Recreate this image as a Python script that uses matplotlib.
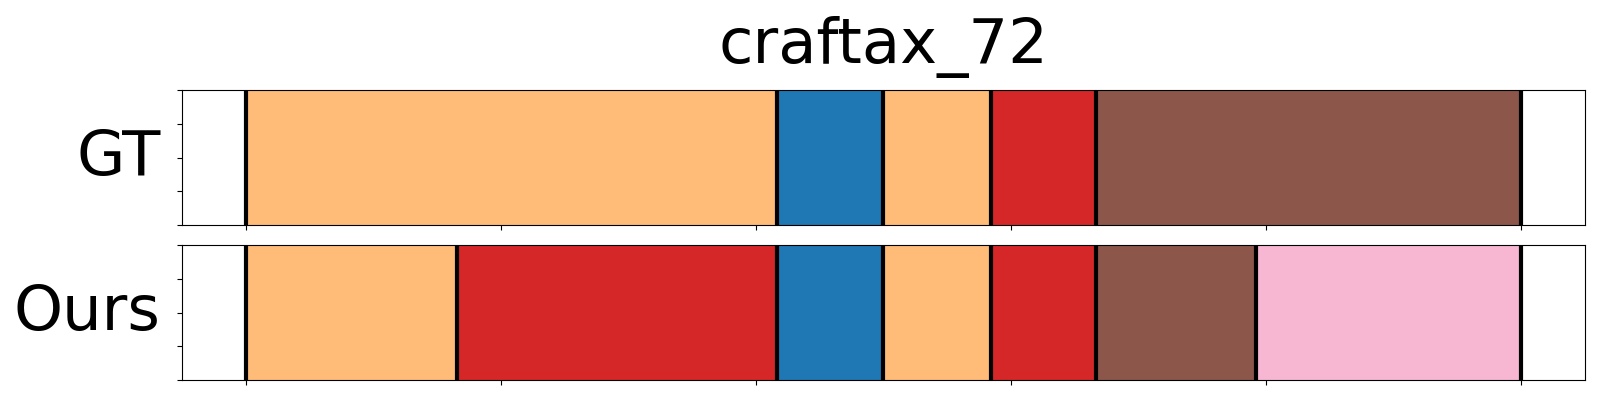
import matplotlib
matplotlib.use("Agg")
import matplotlib.pyplot as plt

# ---- data (segment boundaries in frames, and segment class colors) ----
title = "craftax_72"
row_labels = ["GT", "Ours"]

gt_bounds = [0, 208.5, 250, 292, 333.5, 500]
gt_colors = ["#ffbb78", "#1f77b4", "#ffbb78", "#d62728", "#8c564b"]

ours_bounds = [0, 83, 208.5, 250, 292, 333.5, 396, 500]
ours_colors = ["#ffbb78", "#d62728", "#1f77b4", "#ffbb78", "#d62728", "#8c564b", "#f7b6d2"]

x_ticks = [0, 100, 200, 300, 400, 500]
y_ticks = [0, 0.25, 0.5, 0.75, 1.0]

fig = plt.figure(figsize=(16, 4), dpi=100)
ax1 = fig.add_axes([0.1136, 0.4375, 0.877, 0.3365])
ax2 = fig.add_axes([0.1136, 0.05, 0.877, 0.3365])

def draw(ax, bounds, colors, label):
    for s, e, c in zip(bounds[:-1], bounds[1:], colors):
        ax.axvspan(s, e, color=c, lw=0)
    for b in bounds:
        ax.axvline(b, color="black", lw=3)
    ax.set_xlim(-25, 525)
    ax.set_ylim(0, 1)
    ax.set_xticks(x_ticks)
    ax.set_xticklabels([])
    ax.set_yticks(y_ticks)
    ax.set_yticklabels([])
    ax.set_ylabel(label, fontsize=45, rotation=0, ha="right", va="center")
    ax.yaxis.set_label_coords(-0.0150, 0.5)

draw(ax1, gt_bounds, gt_colors, row_labels[0])
draw(ax2, ours_bounds, ours_colors, row_labels[1])
ax1.set_title(title, fontsize=45, pad=20)

fig.savefig("out.png", dpi=100)
